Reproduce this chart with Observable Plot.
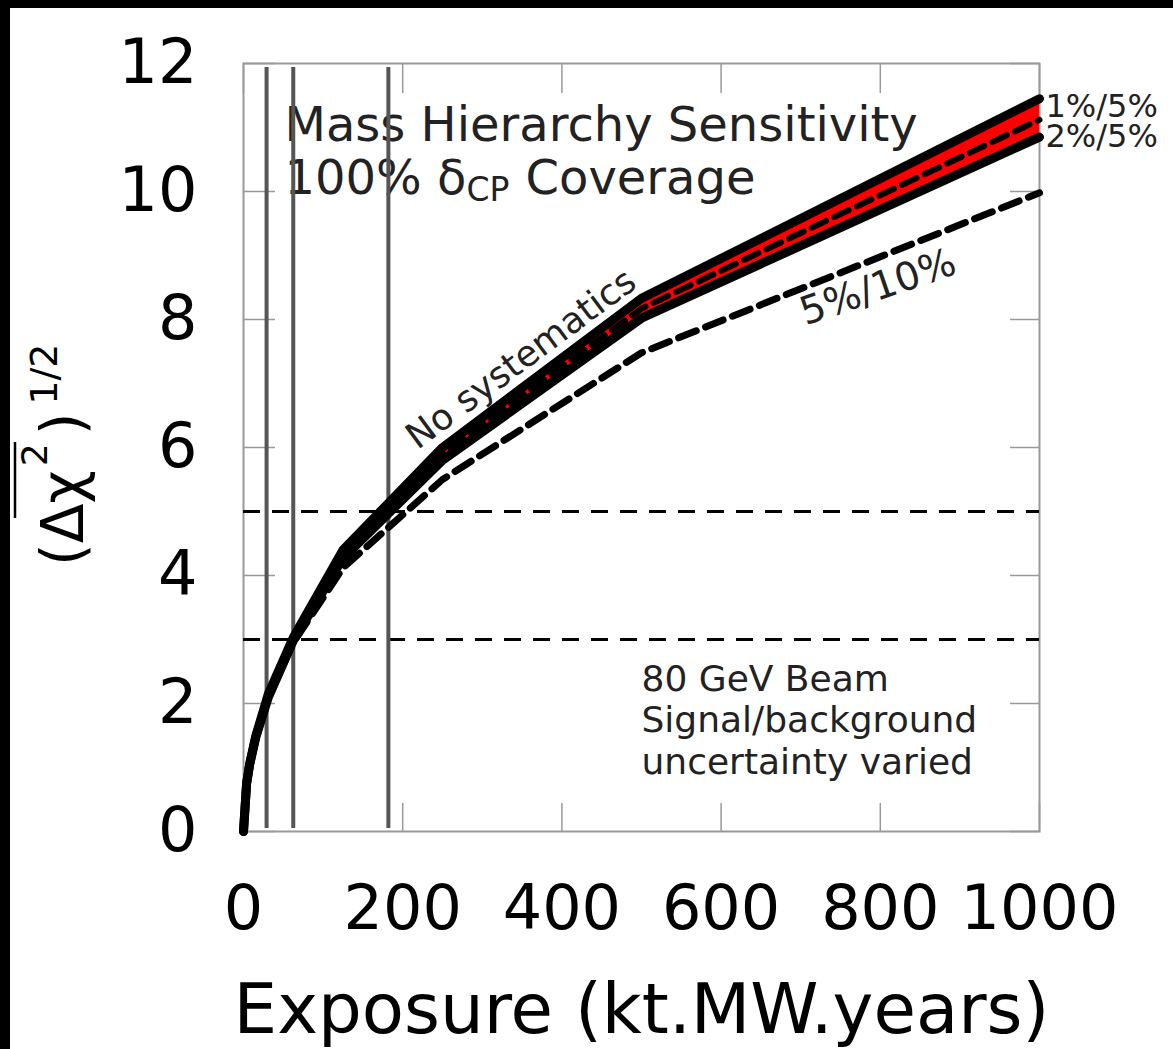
<!DOCTYPE html>
<html><head><meta charset="utf-8">
<script src="https://cdn.jsdelivr.net/npm/d3@7"></script>
<script src="https://cdn.jsdelivr.net/npm/@observablehq/plot@0.6"></script>
<style>
html,body{margin:0;padding:0;background:#000;}
#wrap{position:absolute;left:10px;top:8px;width:1163px;height:1041px;background:#fff;overflow:hidden;}
svg{overflow:visible;}
</style></head><body><div id="wrap"></div>
<script>
// Exposure (kt.MW.years)
const exposure = [0, 3.9, 7.8, 15.6, 31.25, 62.5, 125, 250, 500, 1000];
// upper edge of band (1%/5%)
const upper    = [0, 0.75, 1.06, 1.5, 2.15, 3.03, 4.40, 6.00, 8.33, 11.45];
// lower edge of band (2%/5%)
const lower    = [0, 0.75, 1.05, 1.48, 2.10, 2.98, 4.27, 5.80, 8.02, 10.85];
// dashed line inside band
const middle   = [0, 0.75, 1.05, 1.49, 2.12, 3.00, 4.33, 5.90, 8.17, 11.12];
// 5%/10% dashed
const loose    = [0, 0.75, 1.04, 1.47, 2.09, 2.95, 4.12, 5.50, 7.48, 9.98];

const xTicks = [0, 200, 400, 600, 800, 1000];
const yTicks = [0, 2, 4, 6, 8, 10, 12];
const sigmaLevels = [3, 5];
const markerExposures = [29, 62.5, 182];

const data = exposure.map((e, i) => ({e, upper: upper[i], lower: lower[i], middle: middle[i], loose: loose[i]}));

const W = 1163, H = 1041, mL = 233, mT = 55, mR = 134, mB = 218;
const innerW = W - mL - mR, innerH = H - mT - mB;
const tickStyle = {stroke: "#999", strokeWidth: 1.5};
const txt = "#222";
const fmt = d => String(d);

const chart = Plot.plot({
  width: W, height: H,
  marginLeft: mL, marginTop: mT, marginRight: mR, marginBottom: mB,
  style: {fontFamily: "DejaVu Sans", background: "transparent", overflow: "visible"},
  x: {domain: [0, 1000]},
  y: {domain: [0, 12]},
  marks: [
    Plot.frame({stroke: "#999", strokeWidth: 2}),
    Plot.axisX(xTicks, {tickSize: 0, tickPadding: 53, fontSize: 62, fill: "#000", label: null, tickFormat: fmt}),
    Plot.axisY(yTicks, {tickSize: 0, tickPadding: 46, fontSize: 62, fill: "#000", label: null, tickFormat: fmt}),
    Plot.tickX(xTicks, {x: d => d, insetTop: innerH - 28, ...tickStyle}),
    Plot.tickX(xTicks, {x: d => d, insetBottom: innerH - 30, ...tickStyle}),
    Plot.tickY(yTicks, {y: d => d, insetRight: innerW - 32, ...tickStyle}),
    Plot.tickY(yTicks, {y: d => d, insetLeft: innerW - 29, ...tickStyle}),
    Plot.ruleY(sigmaLevels, {y: d => d, stroke: "#000", strokeWidth: 3, strokeDasharray: "17,12"}),
    // titles
    Plot.text(["Mass Hierarchy Sensitivity"], {x: 51.5, y: 11.03, textAnchor: "start", fontSize: 48, fill: txt}),
    Plot.text(["100% δ"], {x: 51.5, y: 10.2, textAnchor: "start", fontSize: 48, fill: txt}),
    Plot.text(["CP"], {x: 51.5, y: 10.2, dx: 182, dy: 12, textAnchor: "start", fontSize: 33, fill: txt}),
    Plot.text(["Coverage"], {x: 51.5, y: 10.2, dx: 241, textAnchor: "start", fontSize: 48, fill: txt}),
    Plot.text(["80 GeV Beam\nSignal/background\nuncertainty varied"], {x: 500, y: 1.76, textAnchor: "start", lineHeight: 1.15, fontSize: 36, fill: txt}),
    Plot.text(["No systematics"], {x: 210, y: 6.1, textAnchor: "start", rotate: -36.6, fontSize: 36, fill: txt}),
    Plot.text(["5%/10%"], {x: 797, y: 8.5, textAnchor: "middle", rotate: -19, fontSize: 39, fill: txt}),
    // marker verticals
    Plot.ruleX(markerExposures, {x: d => d, stroke: "#555", strokeWidth: 4, insetTop: 4, insetBottom: 3}),
    // band
    Plot.areaY(data, {x: "e", y1: "lower", y2: "upper", fill: "#ff0000"}),
    Plot.line(data, {x: "e", y: "loose", stroke: "#000", strokeWidth: 7, strokeDasharray: "19,10"}),
    Plot.line(data, {x: "e", y: "upper", stroke: "#000", strokeWidth: 9, strokeLinejoin: "round"}),
    Plot.line(data, {x: "e", y: "lower", stroke: "#000", strokeWidth: 9, strokeLinejoin: "round"}),
    Plot.line(data, {x: "e", y: "middle", stroke: "#000", strokeWidth: 6, strokeDasharray: "16,9"}),
    // right labels
    Plot.text(["1%/5%"], {x: 1007.5, y: 11.33, textAnchor: "start", fontSize: 32, fill: txt}),
    Plot.text(["2%/5%"], {x: 1007.5, y: 10.86, textAnchor: "start", fontSize: 32, fill: txt}),
    // x label
    Plot.text(["Exposure (kt.MW.years)"], {frameAnchor: "bottom", lineAnchor: "middle", dy: 179, fontSize: 69, fill: "#000"})
  ]
});

document.getElementById("wrap").appendChild(chart);

// y-axis label: (Δχ²)^{1/2} with overline
const svg = d3.select(chart);
const g = svg.append("g").attr("transform", "translate(73,558) rotate(-90)")
  .attr("font-family", "DejaVu Sans").attr("fill", "#000").attr("text-anchor", "start");
const t = g.append("text").attr("x", 0).attr("y", 0).attr("font-size", 58).attr("text-anchor", "start");
t.append("tspan").text("(Δχ");
t.append("tspan").attr("font-size", 36).attr("dx", 4).attr("dy", -36).text("2");
t.append("tspan").attr("dx", 8).attr("dy", 36).text(")");
t.append("tspan").attr("font-size", 38).attr("dx", 8).attr("dy", -26).text("1/2");
g.append("line").attr("x1", 48).attr("x2", 124).attr("y1", -68).attr("y2", -68)
  .attr("stroke", "#000").attr("stroke-width", 2.5);
</script>
</body></html>
